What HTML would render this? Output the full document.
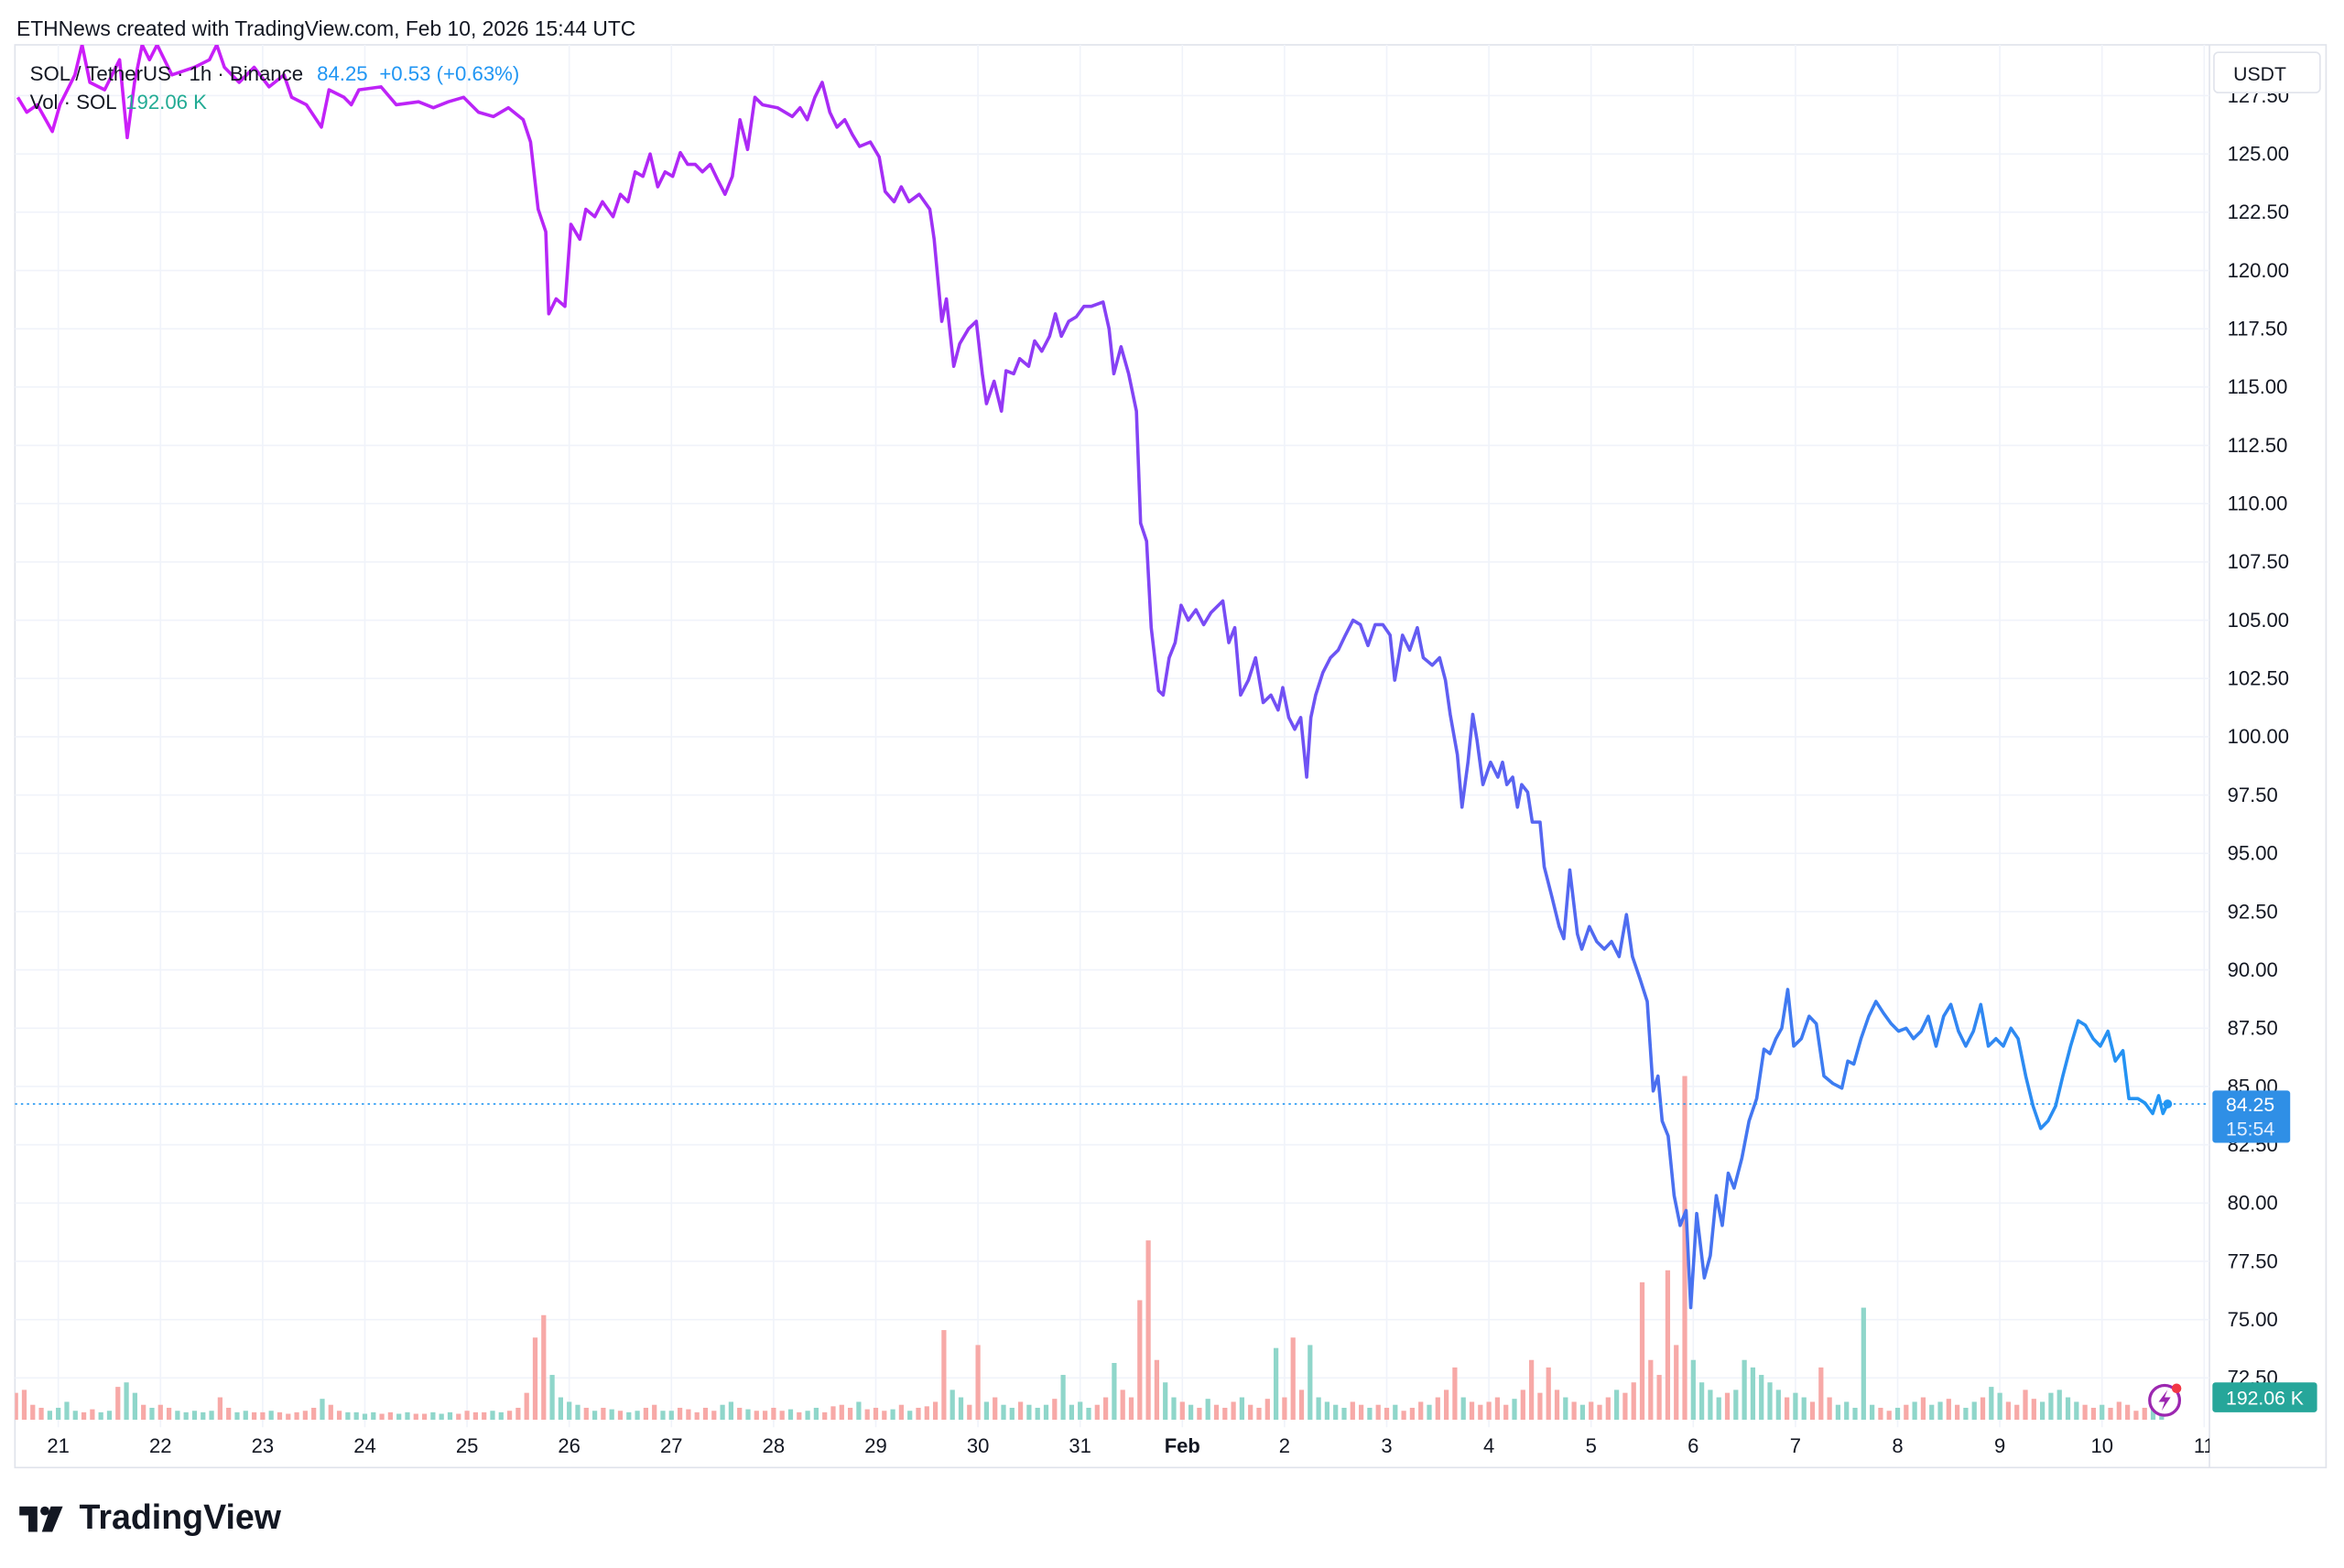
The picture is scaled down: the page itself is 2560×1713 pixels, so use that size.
<!DOCTYPE html>
<html><head><meta charset="utf-8"><style>
html,body{margin:0;padding:0;background:#fff;}
svg{display:block;font-family:"Liberation Sans",sans-serif;}
</style></head><body>
<svg id="chart" width="2560" height="1713" viewBox="0 0 1568 1049.2" preserveAspectRatio="none" xmlns="http://www.w3.org/2000/svg">
<defs>
<linearGradient id="lg" gradientUnits="userSpaceOnUse" x1="10" y1="0" x2="1450" y2="0">
<stop offset="0" stop-color="#d01cf9"/><stop offset="0.4" stop-color="#a62cf5"/><stop offset="0.55" stop-color="#7a4af5"/><stop offset="0.75" stop-color="#4d6df0"/><stop offset="1" stop-color="#2196f3"/>
</linearGradient>
<clipPath id="plotclip"><rect x="10" y="30" width="1468" height="925"/></clipPath>
<clipPath id="xclip"><rect x="0" y="955" width="1478" height="30"/></clipPath>
</defs>
<rect width="1568" height="1049.2" fill="#fff"/>
<text x="11" y="24" font-size="14" fill="#131722">ETHNews created with TradingView.com, Feb 10, 2026 15:44 UTC</text>
<rect x="10" y="30" width="1546" height="952" fill="none" stroke="#e0e3eb" stroke-width="1"/>
<line x1="1478" y1="30" x2="1478" y2="982" stroke="#e0e3eb"/>
<g id="grid"></g>
<g id="vol" clip-path="url(#plotclip)"></g>
<g id="price" clip-path="url(#plotclip)"></g>
<g id="yaxis"></g>
<g id="xaxis" clip-path="url(#xclip)"></g>
<text x="20" y="54" font-size="13.6" fill="#131722">SOL / TetherUS · 1h · Binance</text>
<text x="212" y="54" font-size="13.6" fill="#2196f3">84.25 <tspan dx="4">+0.53 (+0.63%)</tspan></text>
<text x="20" y="73" font-size="13.6" fill="#131722">Vol · SOL</text>
<text x="84" y="73" font-size="13.6" fill="#22ab94">192.06 K</text>
<g id="usdt">
<rect x="1481" y="35" width="71" height="27" rx="3" fill="#fff" stroke="#e0e3eb"/>
<text x="1494" y="54" font-size="13" fill="#131722">USDT</text>
</g>
<g id="alert">
<circle cx="1448" cy="937" r="10" fill="#fff" stroke="#9c27b0" stroke-width="2"/>
<path d="M1450 930 L1444 938 L1448 938 L1446 944 L1452 935 L1448 935 Z" fill="#9c27b0"/>
<circle cx="1456" cy="929" r="3.2" fill="#f23645"/>
</g>
<g>
<path d="M13 1008 h12 v17 h-6 v-11 h-6z" fill="#131722"/><circle cx="30" cy="1011" r="3" fill="#131722"/><path d="M34 1008 h8 l-7 17 h-7z" fill="#131722"/>
<text x="53" y="1023" font-size="23" font-weight="bold" fill="#131722">TradingView</text>
</g>
</svg>
<script>
const hours=[-9.5,-7.4,-4.9,-1.4,0.4,3.9,5.6,7.4,10.9,14.4,16.2,17.9,19.7,21.4,23.2,26.7,32.0,35.5,37.2,39.0,42.5,46.0,49.5,53.0,54.8,58.3,61.8,63.6,67.1,68.8,70.6,75.8,79.4,84.6,88.1,91.6,95.2,98.7,102.2,105.7,109.2,110.9,112.7,114.5,115.2,116.9,119.0,120.4,122.5,123.9,126.0,127.8,130.3,132.0,133.8,135.5,137.3,139.0,140.8,142.5,144.3,146.1,147.8,149.6,151.3,153.1,154.8,156.6,158.3,160.1,161.9,163.6,165.4,168.9,172.4,174.2,175.9,177.7,179.4,181.2,182.9,184.7,186.5,188.2,190.7,192.8,194.2,196.3,198.0,199.8,202.2,204.7,205.7,207.5,208.6,210.3,211.7,213.8,215.6,217.0,218.0,219.8,221.5,222.6,224.4,225.8,227.9,229.3,231.0,232.8,234.2,235.6,237.3,239.1,240.9,242.6,245.4,246.8,247.9,249.6,251.4,253.2,254.2,255.6,256.7,258.4,259.5,260.9,262.3,263.7,265.4,267.2,269.0,270.7,273.5,274.9,276.3,277.7,279.5,281.2,283.0,284.8,286.5,287.6,289.0,290.4,291.8,293.2,294.2,295.3,297.0,298.8,300.6,302.3,304.1,305.8,307.6,309.3,311.1,312.8,313.9,315.7,317.4,319.2,320.6,322.7,324.4,325.8,326.9,328.6,329.7,331.1,332.2,333.2,334.6,336.4,338.1,339.2,340.2,341.6,342.7,343.7,345.1,346.2,348.0,349.0,350.8,352.5,353.6,355.0,356.8,357.8,359.6,361.3,363.1,364.8,366.6,368.3,369.7,371.5,373.2,374.6,375.7,376.7,378.1,379.5,380.9,382.3,383.4,384.8,386.6,388.0,389.4,390.8,392.2,393.6,395.4,397.1,398.9,400.6,402.0,403.4,404.8,406.2,407.6,409.4,411.2,412.9,414.7,416.8,418.9,420.3,421.7,423.4,425.2,426.9,428.7,430.5,432.2,434.0,435.7,437.5,439.2,441.0,442.8,444.5,446.3,448.0,449.8,451.5,453.3,455.1,456.8,458.6,460.3,462.1,463.8,465.6,467.3,469.1,470.8,472.6,474.4,476.1,477.9,479.6,481.4,483.1,484.9,486.3,488.4,490.1,491.9,493.3,494.3,495.4];
const prices=[127.43,126.79,127.11,125.96,127.11,128.39,129.68,128.07,127.75,129.04,125.70,128.07,129.68,129.04,129.68,128.39,128.72,129.04,129.68,128.72,128.07,128.72,127.88,128.39,127.43,127.11,126.15,127.75,127.43,127.11,127.75,127.88,127.11,127.24,126.98,127.24,127.43,126.79,126.60,126.98,126.47,125.51,122.63,121.66,118.14,118.78,118.46,121.98,121.34,122.63,122.31,122.95,122.31,123.27,122.95,124.23,124.04,125.00,123.59,124.23,124.04,125.06,124.55,124.55,124.23,124.55,123.91,123.27,124.04,126.47,125.19,127.43,127.11,126.98,126.60,126.98,126.47,127.43,128.07,126.79,126.15,126.47,125.83,125.32,125.51,124.87,123.39,122.95,123.59,122.95,123.27,122.63,121.34,117.82,118.78,115.89,116.86,117.50,117.82,115.57,114.29,115.25,113.97,115.70,115.57,116.22,115.89,116.98,116.54,117.18,118.14,117.18,117.82,118.01,118.46,118.46,118.65,117.50,115.57,116.73,115.57,113.97,109.16,108.39,104.68,101.98,101.79,103.39,104.04,105.64,105.00,105.45,104.81,105.32,105.83,104.04,104.68,101.79,102.43,103.39,101.47,101.79,101.15,102.11,100.83,100.32,100.83,98.27,100.83,101.79,102.75,103.39,103.72,104.36,105.00,104.81,103.91,104.81,104.81,104.36,102.43,104.36,103.72,104.68,103.39,103.07,103.39,102.43,100.96,99.23,96.98,98.91,100.96,99.87,97.95,98.91,98.27,98.91,97.95,98.27,96.98,97.95,97.63,96.34,96.34,94.42,93.14,91.86,91.34,94.29,91.54,90.89,91.86,91.22,90.89,91.22,90.57,92.37,90.57,89.61,88.65,84.81,85.45,83.52,82.88,80.32,79.04,79.68,75.51,79.55,76.79,77.75,80.32,79.04,81.28,80.64,81.92,83.52,84.48,86.60,86.41,87.05,87.50,89.16,86.73,87.05,88.01,87.69,85.45,85.13,84.93,86.09,85.96,87.05,88.01,88.65,88.14,87.69,87.37,87.50,87.05,87.37,88.01,86.73,88.01,88.52,87.37,86.73,87.37,88.52,86.73,87.05,86.73,87.50,87.05,85.45,84.16,83.20,83.52,84.16,85.45,86.73,87.82,87.63,87.05,86.73,87.37,86.09,86.54,84.48,84.48,84.29,83.84,84.61,83.84,84.25];
const volStartHour=-10;
const volStepHours=2;
const volumes=[18,20,10,8,6,
8,12,6,5,7,5,6,22,25,18,10,8,
10,8,6,5,6,5,6,15,8,5,6,5,
5,6,5,4,5,6,8,14,10,6,5,5,
4,5,4,5,4,5,4,4,5,4,5,4,
6,5,5,6,5,6,8,18,55,70,30,15,
12,10,8,6,8,7,6,5,6,8,10,6,
6,8,7,5,8,6,10,12,8,7,6,6,
8,6,7,5,6,8,5,9,10,8,12,7,
8,6,7,10,6,8,9,12,60,20,15,10,
50,12,15,10,8,12,10,8,10,14,30,10,
12,8,10,15,38,20,15,80,120,40,25,15,
12,10,8,14,10,8,12,15,10,8,14,48,
15,55,20,50,15,12,10,8,12,10,8,10,
8,10,6,8,12,10,15,20,35,15,12,10,
12,15,10,14,20,40,18,35,20,15,12,10,
12,10,15,20,18,25,92,40,30,100,50,230,
40,25,20,15,18,20,40,35,30,25,20,15,
18,15,12,35,15,10,12,8,75,10,8,6,
8,10,12,15,10,12,14,10,8,12,15,22,
18,12,10,20,14,12,18,20,15,12,10,8,
10,8,12,10,6,8,10,14];
const priceTicks=[72.5,75,77.5,80,82.5,85,87.5,90,92.5,95,97.5,100,102.5,105,107.5,110,112.5,115,117.5,120,122.5,125,127.5];
const dayLabels=["21","22","23","24","25","26","27","28","29","30","31","Feb","2","3","4","5","6","7","8","9","10","11"];
const lastPrice=84.25;

const NS="http://www.w3.org/2000/svg";
function X(h){return 39+h/0.3511;}
function Y(p){return 103+(125-p)*15.6;}
const volMax=Math.max(...volumes);
function YV(v){return 950-v/volMax*230;}
function mk(tag,attrs,parent){const e=document.createElementNS(NS,tag);for(const k in attrs)e.setAttribute(k,attrs[k]);parent.appendChild(e);return e;}
function priceAt(h){for(let i=1;i<hours.length;i++){if(hours[i]>=h){const t=(h-hours[i-1])/(hours[i]-hours[i-1]);return prices[i-1]+t*(prices[i]-prices[i-1]);}}return prices[prices.length-1];}

const grid=document.getElementById('grid'),yax=document.getElementById('yaxis'),xax=document.getElementById('xaxis');
priceTicks.forEach(p=>{
  const l=mk('line',{x1:10,x2:1478,y1:Y(p),y2:Y(p),stroke:'#f0f3fa','stroke-width':1},grid);
  
  
  const t=mk('text',{x:1490,y:Y(p)+4.5,'font-size':13.5,fill:'#131722'},yax);
  
  
  t.textContent=p.toFixed(2);
});
dayLabels.forEach((d,i)=>{
  const x=X(i*24);
  if(x<1478){
    const l=mk('line',{x1:x,x2:x,y1:30,y2:955,stroke:'#f0f3fa','stroke-width':1},grid);
    
    
  }
  const t=mk('text',{x:x,y:972,'font-size':13.5,fill:'#131722','text-anchor':'middle','font-weight':d==='Feb'?'bold':'normal'},xax);
  
  
  t.textContent=d;
});
const vol=document.getElementById('vol');
volumes.forEach((v,i)=>{
  const h=volStartHour+i*volStepHours;
  const up=priceAt(h+volStepHours)>=priceAt(h);
  const r=mk('rect',{x:X(h)-1.6,y:YV(v),width:3.2,height:950-YV(v),fill:up?'#8fd6ca':'#f7a9a7'},vol);
  
  
});
const pg=document.getElementById('price');
const d=hours.map((h,i)=>(i?'L':'M')+X(h).toFixed(1)+' '+Y(prices[i]).toFixed(1)).join(' ');
const path=mk('path',{d:d,fill:'none',stroke:'url(#lg)','stroke-width':2.2,'stroke-linejoin':'round'},pg);


const ly=Y(lastPrice);
const dl=mk('line',{x1:10,x2:1478,y1:ly,y2:ly,stroke:'#2196f3','stroke-width':1,'stroke-dasharray':'1.5 2.5'},pg);


const dot=mk('circle',{cx:X(hours[hours.length-1]),cy:ly,r:3,fill:'#2196f3'},pg);


const svg=document.getElementById('chart');
const box=mk('rect',{x:1480,y:ly-9,width:52,height:35,rx:2,fill:'#2f8fe6'},svg);


const t1=mk('text',{x:1489,y:ly+5,'font-size':13,fill:'#fff'},svg);t1.textContent=lastPrice.toFixed(2);


const t2=mk('text',{x:1489,y:ly+21,'font-size':13,fill:'#e3efff'},svg);t2.textContent='15:54';


const vb=mk('rect',{x:1480,y:925,width:70,height:20,rx:2,fill:'#26a69a'},svg);


const vt=mk('text',{x:1489,y:940,'font-size':13,fill:'#fff'},svg);vt.textContent='192.06 K';


svg.appendChild(document.getElementById('alert'));
svg.appendChild(document.getElementById('usdt'));
</script>
</body></html>
